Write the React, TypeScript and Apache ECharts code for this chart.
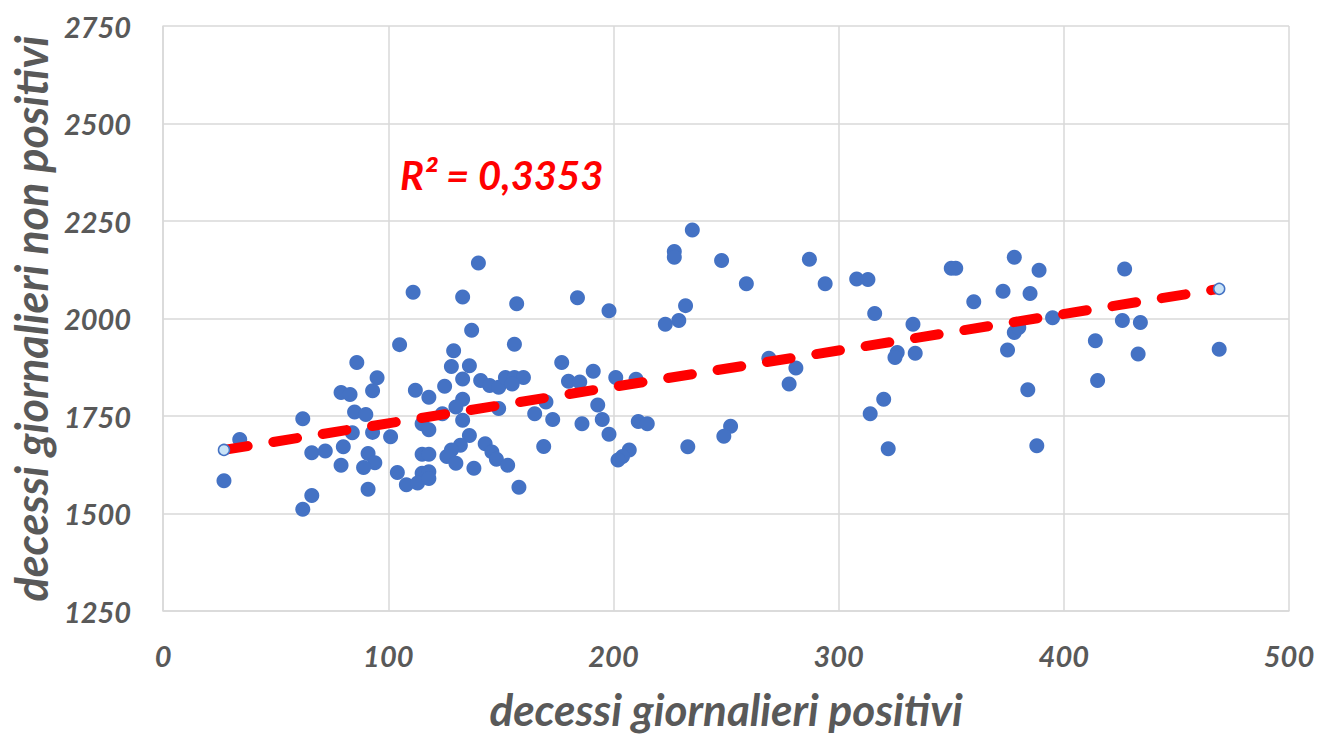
import React, { useEffect, useRef } from "react";
import * as echarts from "echarts";

const xTicks = { min: 0, max: 500, interval: 100 };
const yTicks = { min: 1250, max: 2750, interval: 250 };

const xTitle = "decessi giornalieri positivi";
const yTitle = "decessi giornalieri non positivi";
const r2Label = "R² = 0,3353";

// daily deaths: positive (x) vs non-positive (y)
const positivi: number[] = [
  34, 27, 62, 66, 72, 80, 79, 66, 62, 86, 95, 93, 79, 83, 85, 90, 84, 93, 91, 94, 89, 91, 101, 104, 105,
  111, 133, 140, 137, 129, 128, 136, 133, 141, 145, 112, 118, 125, 133, 130, 133, 124, 115, 118, 136, 132,
  128, 126, 130, 115, 118, 143, 146, 138, 115, 118, 108, 113, 118, 148, 153, 149, 152, 156, 160, 155, 149,
  157, 156, 177, 180, 185, 191, 170, 165, 173, 193, 186, 195, 169, 158, 184, 198, 201, 210, 198, 211, 215,
  207, 204, 202, 235, 227, 227, 232, 229, 223, 233, 248, 259, 252, 249, 269, 281, 278, 287, 294, 308, 313,
  316, 326, 325, 334, 333, 320, 314, 322, 350, 352, 360, 373, 378, 385, 389, 395, 378, 380, 375, 384, 388,
  427, 426, 434, 414, 433, 415, 469,
];
const nonPositivi: number[] = [
  1690, 1584, 1743, 1656, 1660, 1671, 1624, 1546, 1511, 1887, 1848, 1815, 1810, 1805, 1760, 1754, 1707,
  1708, 1654, 1630, 1618, 1562, 1697, 1605, 1933, 2067, 2055, 2142, 1970, 1917, 1877, 1879, 1845, 1841,
  1828, 1816, 1798, 1826, 1793, 1773, 1739, 1756, 1730, 1715, 1700, 1675, 1663, 1646, 1629, 1652, 1652,
  1679, 1658, 1616, 1603, 1607, 1574, 1578, 1590, 1639, 1624, 1824, 1849, 1849, 1849, 1832, 1769, 2038,
  1934, 1887, 1839, 1837, 1865, 1786, 1756, 1741, 1778, 1730, 1741, 1672, 1567, 2053, 2020, 1849, 1844,
  1703, 1736, 1730, 1663, 1646, 1637, 2227, 2172, 2157, 2033, 1995, 1985, 1671, 2149, 2089, 1724, 1698,
  1898, 1873, 1832, 2152, 2089, 2101, 2100, 2013, 1913, 1900, 1911, 1985, 1793, 1756, 1666, 2129, 2129,
  2043, 2070, 2157, 2064, 2124, 2002, 1964, 1977, 1919, 1817, 1674, 2127, 1995, 1990, 1943, 1909, 1841, 1921,
];

// highlighted points at the ends of the trendline
const highlightX: number[] = [27, 469];
const highlightY: number[] = [1663, 2076];

// linear trendline end points
const trendX: number[] = [27, 469];
const trendY: number[] = [1663, 2076];

const FONT = "Lato, 'Open Sans', 'Liberation Sans', sans-serif";
const GRAY = "#595959";

export default function App() {
  const ref = useRef<HTMLDivElement>(null);

  useEffect(() => {
    if (!ref.current) return;
    const chart = echarts.init(ref.current, undefined, { renderer: "svg" });
    const scatterData = positivi.map((x, i) => [x, nonPositivi[i]]);
    const hlData = highlightX.map((x, i) => [x, highlightY[i]]);
    const trendData = trendX.map((x, i) => [x, trendY[i]]);

    const labelStyle = {
      fontFamily: FONT,
      fontSize: 29,
      fontWeight: "bold",
      fontStyle: "italic",
      color: GRAY,
      formatter: (v: number) => String(v),
    };

    chart.setOption({
      animation: false,
      backgroundColor: "#ffffff",
      grid: { left: 162, right: 43, top: 26, bottom: 118, containLabel: false },
      xAxis: {
        type: "value",
        min: xTicks.min,
        max: xTicks.max,
        interval: xTicks.interval,
        name: xTitle,
        nameLocation: "middle",
        nameGap: 76,
        nameTextStyle: {
          fontFamily: FONT,
          fontSize: 44,
          fontWeight: "bold",
          fontStyle: "italic",
          color: GRAY,
        },
        axisLine: { show: true, lineStyle: { color: "#d9d9d9", width: 1.5 } },
        axisTick: { show: false },
        splitLine: { show: true, lineStyle: { color: "#d9d9d9", width: 1.5 } },
        axisLabel: { ...labelStyle, margin: 30 },
      },
      yAxis: {
        type: "value",
        min: yTicks.min,
        max: yTicks.max,
        interval: yTicks.interval,
        name: yTitle,
        nameLocation: "middle",
        nameGap: 102,
        nameTextStyle: {
          fontFamily: FONT,
          fontSize: 45,
          fontWeight: "bold",
          fontStyle: "italic",
          color: GRAY,
        },
        axisLine: { show: true, lineStyle: { color: "#d9d9d9", width: 1.5 } },
        axisTick: { show: false },
        splitLine: { show: true, lineStyle: { color: "#d9d9d9", width: 1.5 } },
        axisLabel: { ...labelStyle, margin: 32 },
      },
      graphic: [
        {
          type: "text",
          left: 400,
          top: 155,
          style: {
            text: r2Label,
            fontFamily: FONT,
            fontSize: 40,
            fontWeight: "bold",
            fontStyle: "italic",
            fill: "#ff0000",
          },
        },
      ],
      series: [
        {
          type: "scatter",
          data: scatterData,
          symbol: "circle",
          symbolSize: 15,
          itemStyle: { color: "#4472C4", opacity: 1 },
          z: 2,
        },
        {
          type: "line",
          data: trendData,
          symbol: "none",
          lineStyle: { color: "#ff0000", width: 10, type: [24, 26], cap: "round", opacity: 1 },
          z: 3,
        },
        {
          type: "scatter",
          data: hlData,
          symbol: "circle",
          symbolSize: 11,
          itemStyle: { color: "#c9e3f7", borderColor: "#4472C4", borderWidth: 1.5, opacity: 1 },
          z: 4,
        },
      ],
    });
    return () => chart.dispose();
  }, []);

  return (
    <div
      ref={ref}
      style={{ position: "fixed", left: 0, top: 0, width: 1332, height: 736, background: "#fff" }}
    />
  );
}
